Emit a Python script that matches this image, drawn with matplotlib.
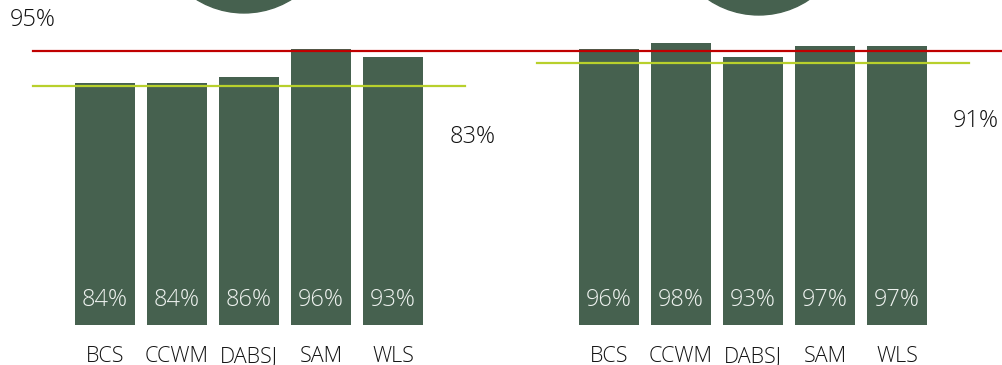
import matplotlib.pyplot as plt
from matplotlib.patches import Ellipse

categories = ["BCS", "CCWM", "DABSJ", "SAM", "WLS"]
left_values = [84, 84, 86, 96, 93]
right_values = [96, 98, 93, 97, 97]
target = 95
left_avg = 83
right_avg = 91

bar_color = "#46614F"
red = "#C00000"
lime = "#B8D02C"
ink = "#111111"

plt.rcParams["font.family"] = ["Open Sans", "DejaVu Sans"]
plt.rcParams["font.weight"] = "light"

fig = plt.figure(figsize=(10.02, 3.65), dpi=100)
ax = fig.add_axes([0, 0, 1, 1])
ax.set_xlim(-1.458, 12.458)
ax.set_ylim(-13.9, 112.85)
ax.axis("off")

left_x = list(range(5))
right_x = [x + 7 for x in left_x]

for xs, vals in [(left_x, left_values), (right_x, right_values)]:
    ax.bar(xs, vals, width=0.833, color=bar_color, zorder=2)
    for x, v, c in zip(xs, vals, categories):
        ax.text(x, 8.5, f"{v}%", ha="center", va="center", color="#EEF2EF",
                fontsize=17, zorder=4)
        ax.text(x, -10.9, c, ha="center", va="center", color=ink,
                fontsize=15.5)

# target line across both panels, averages per panel
ax.plot([-1, 12.6], [target, target], color=red, lw=1.6, zorder=3, clip_on=False)
ax.plot([-1, 5], [left_avg, left_avg], color=lime, lw=1.6, zorder=3)
ax.plot([6, 12], [right_avg, right_avg], color=lime, lw=1.6, zorder=3)

ax.text(-1.01, target + 11, f"{target}%", ha="center", va="center",
        color=ink, fontsize=17)
ax.text(5.1, left_avg - 17.7, f"{left_avg}%", ha="center", va="center",
        color=ink, fontsize=17)
ax.text(12.1, right_avg - 20.2, f"{right_avg}%", ha="center", va="center",
        color=ink, fontsize=17)

# tops of the round charts sitting above each panel (radius 90 px)
for cx, cy in [(1.93, 139.6), (9.08, 138.9)]:
    ax.add_patch(Ellipse((cx, cy), 180 / 72, 180 / 2.88, color=bar_color,
                         zorder=1, clip_on=False))

fig.savefig("out.png", dpi=100)
